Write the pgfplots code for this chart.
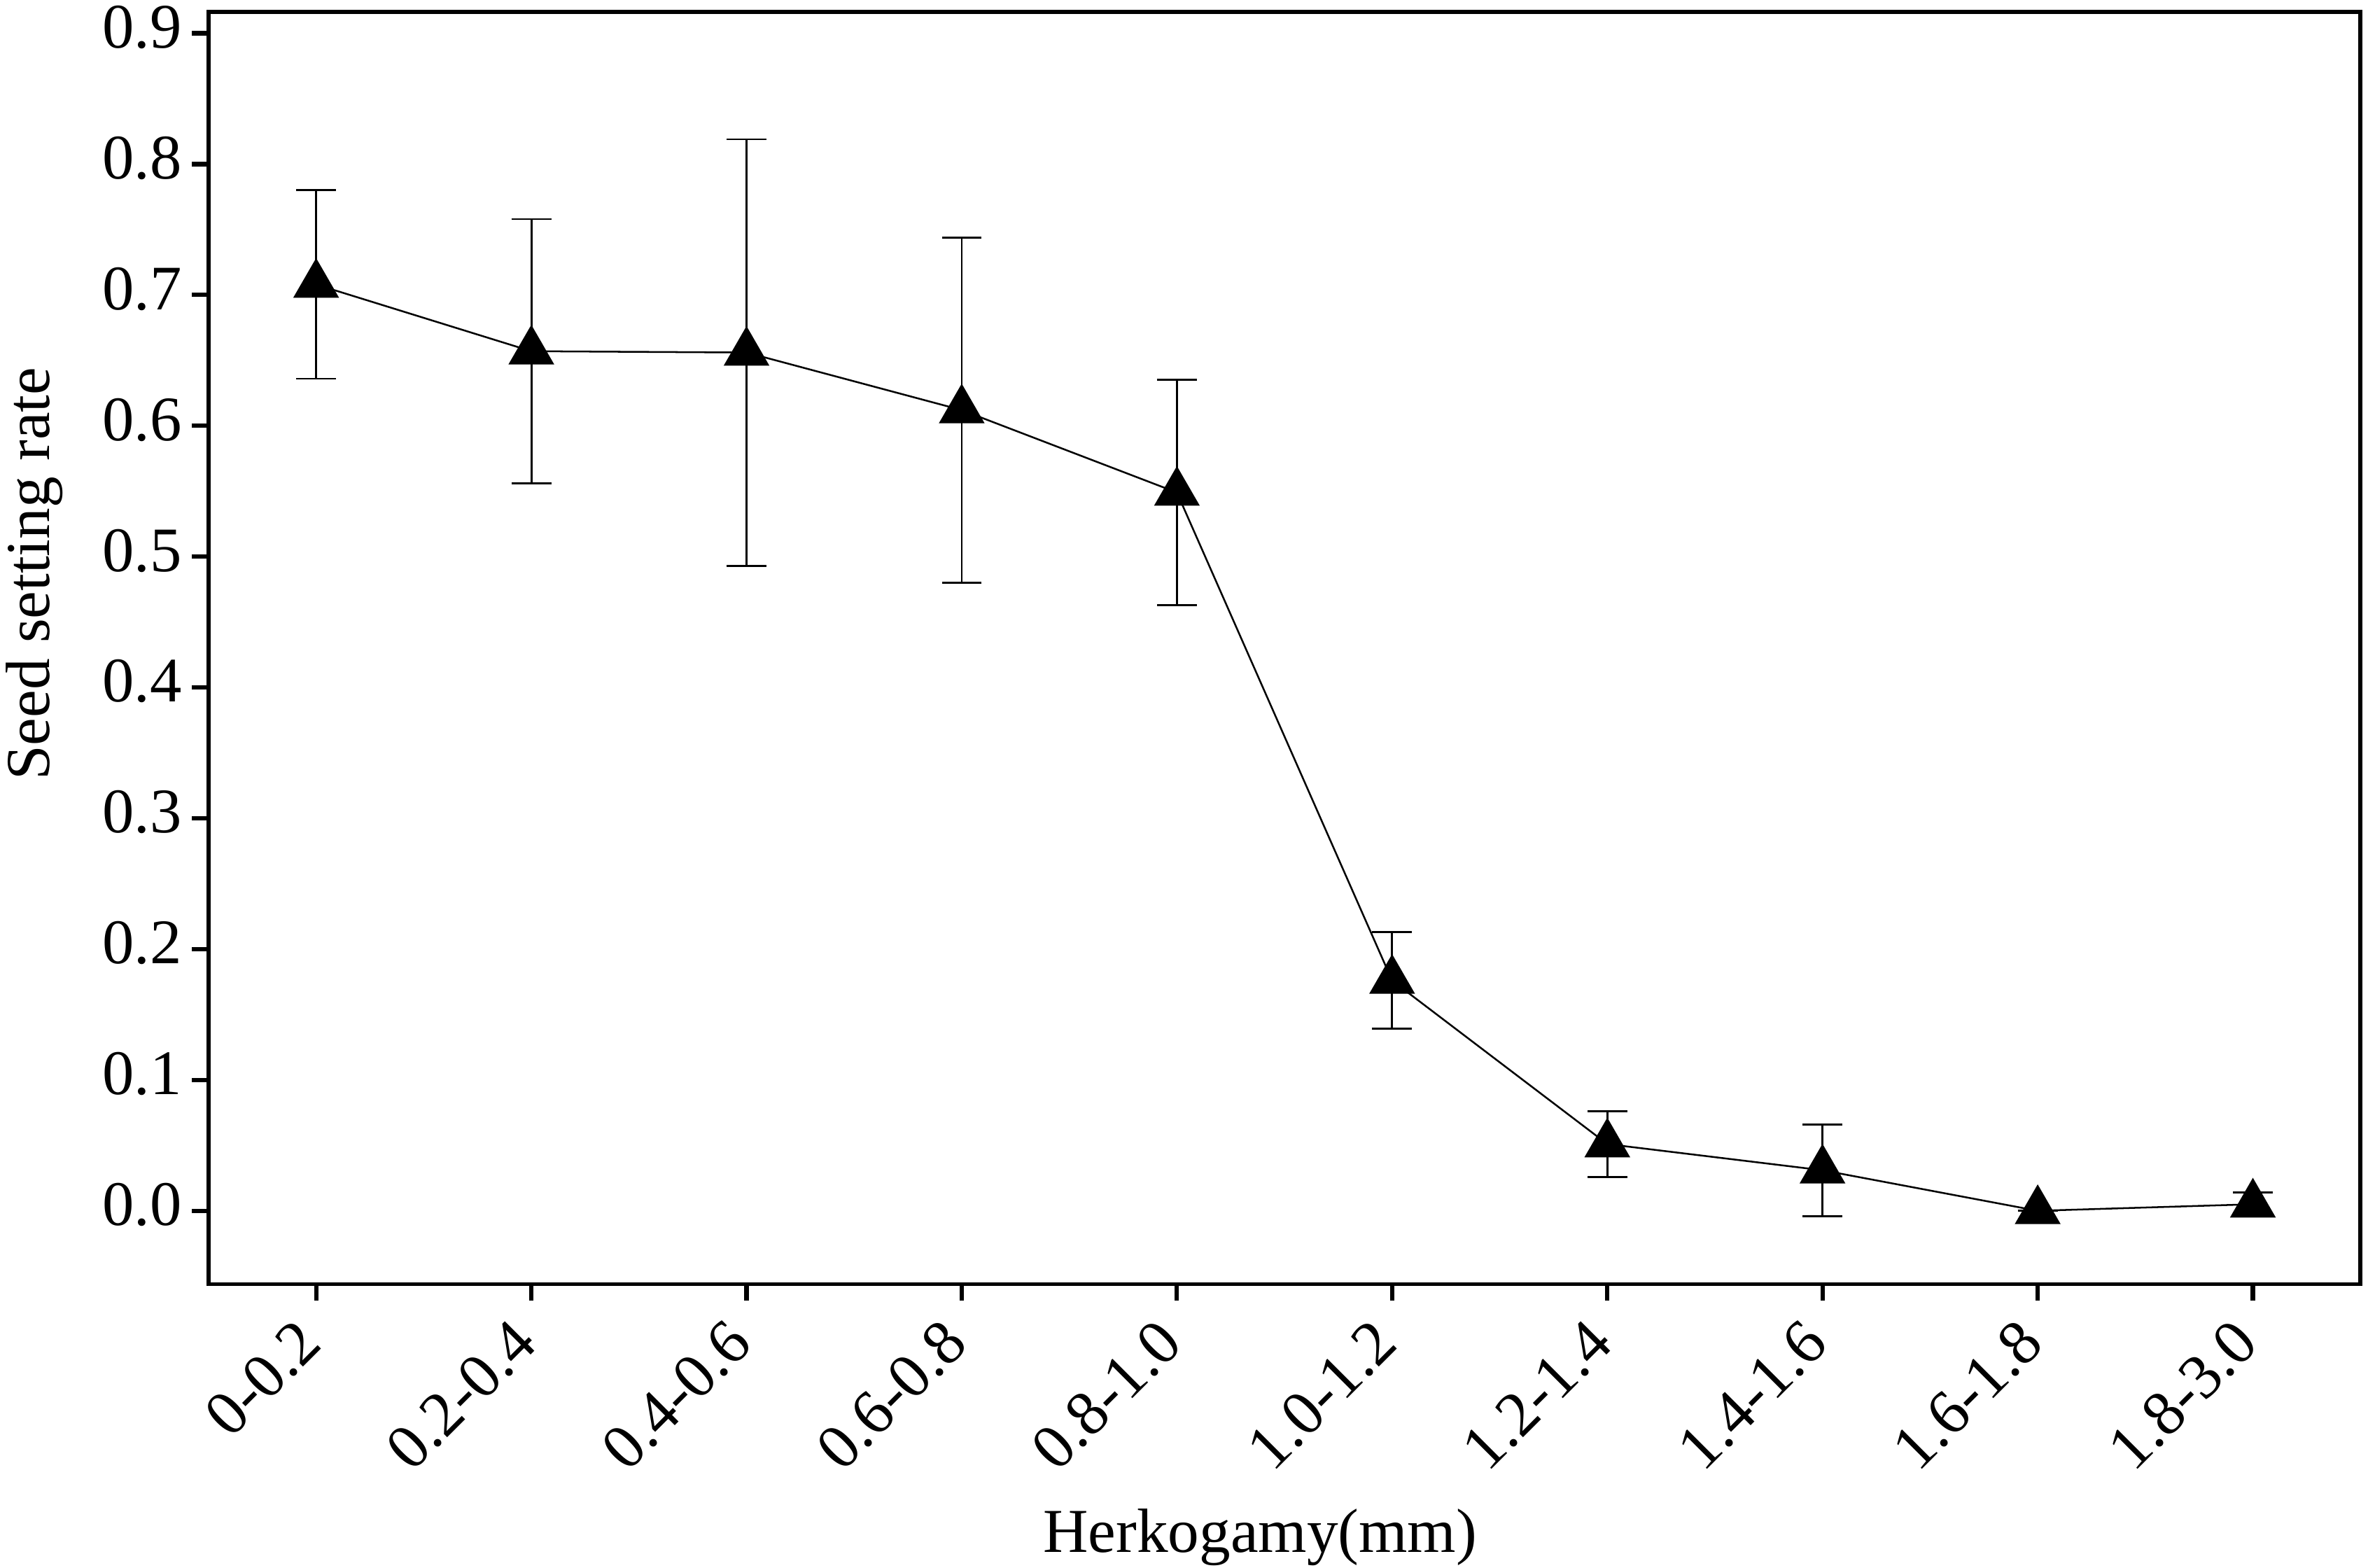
\documentclass[border=0pt]{standalone}
\usepackage{fontspec}
\setmainfont{Liberation Serif}
\usepackage{pgfplots}
\pgfplotsset{compat=1.18}
\pgfplotstableread{
x   y      e
0   0.708  0.072
1   0.657  0.101
2   0.656  0.163
3   0.612  0.132
4   0.549  0.086
5   0.176  0.037
6   0.051  0.025
7   0.031  0.035
8   0.000  0.000
9   0.005  0.009
}\seeddata
\begin{document}
\fontsize{12.4}{14}\selectfont
\begin{tikzpicture}
\begin{axis}[
  name=ax, at={(0,0)}, anchor=south west,
  scale only axis, width=427.2pt, height=252.5pt,
  xmin=-0.5, xmax=9.5, ymin=-0.056, ymax=0.9162,
  xtick={0,...,9},
  xticklabels={0-0.2,0.2-0.4,0.4-0.6,0.6-0.8,0.8-1.0,1.0-1.2,1.2-1.4,1.4-1.6,1.6-1.8,1.8-3.0},
  ytick={0,0.1,0.2,0.3,0.4,0.5,0.6,0.7,0.8,0.9},
  yticklabel style={/pgf/number format/fixed, /pgf/number format/fixed zerofill, /pgf/number format/precision=1},
  /pgf/number format/assume math mode=true,
  tick align=outside, tick pos=left,
  major tick length=3.3pt,
  tick style={line width=0.85pt, black},
  axis line style={line width=0.8pt},
  ticklabel style={font=\fontsize{12.6}{14}\selectfont},
  xticklabel style={xshift=-0.5pt, yshift=-5.3pt, rotate=45, anchor=east, inner sep=1pt},
  yticklabel style={inner sep=0pt, xshift=-1.77pt, yshift=1.2pt},
  xlabel={Herkogamy(mm)}, ylabel={Seed setting rate},
  label style={font=\fontsize{12.4}{14}\selectfont, inner sep=0pt},
  xlabel style={at={(axis description cs:0.3874,-0.2107)}, anchor=base west},
  ylabel style={at={(axis description cs:-0.074,0.3953)}, anchor=base west},
  clip=false,
]
\addplot[black, line width=0.35pt, mark=triangle*, mark size=4.9pt,
  mark options={solid, fill=black},
  error bars/.cd, y dir=both, y explicit,
  error bar style={line width=0.4pt, black},
  error mark options={rotate=90, line width=0.4pt, mark size=3.95pt, black}]
  table[x=x, y=y, y error=e] {\seeddata};
\end{axis}
\pgfresetboundingbox
\path (-41.4pt,-56.3pt) rectangle (428.7pt,254.9pt);
\end{tikzpicture}
\end{document}
